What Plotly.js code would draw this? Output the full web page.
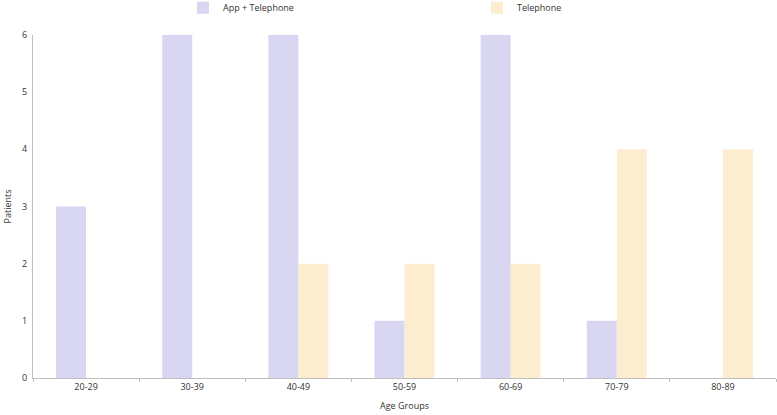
<!DOCTYPE html>
<html><head><meta charset="utf-8">
<script src="https://cdn.plot.ly/plotly-3.0.1.min.js"></script>
<style>html,body{margin:0;padding:0;background:#fff}#chart{width:777px;height:415px}</style>
</head><body><div id="chart"></div>
<script>
const categories = ["20-29","30-39","40-49","50-59","60-69","70-79","80-89"];
const appTelephone = [3,6,6,1,6,1,0];
const telephone = [0,0,2,2,2,4,4];
const seriesNames = ["App + Telephone","Telephone"];

const traces = [
  {type:'bar', name:seriesNames[0], x:categories, y:appTelephone, marker:{color:'#d9d6f1'}},
  {type:'bar', name:seriesNames[1], x:categories, y:telephone, marker:{color:'#fcedd1'}}
];
const layout = {
  width:777, height:415,
  margin:{l:33,r:1,t:35,b:37, autoexpand:false},
  font:{family:'"Open Sans", sans-serif', size:9, color:'#333'},
  barmode:'group', bargap:0.435, bargroupgap:0,
  showlegend:true,
  legend:{orientation:'h', x:0.2019, xref:'paper', xanchor:'left', y:1.122, yref:'paper', yanchor:'top',
    entrywidth:249, font:{size:9,color:'#333'}},
  xaxis:{type:'category', showline:true, linecolor:'#bfbfbf', linewidth:1, ticks:'outside', tickson:'boundaries',
    ticklen:3, tickcolor:'#bfbfbf', showgrid:false, zeroline:false,
    title:{text:'Age Groups', font:{size:9}, standoff:10}},
  yaxis:{range:[0,6], dtick:1, showline:true, linecolor:'#bfbfbf', linewidth:1, ticks:'outside', ticklen:3,
    tickcolor:'#ffffff', showgrid:false, zeroline:false,
    title:{text:'Patients', font:{size:9}, standoff:8}},
  plot_bgcolor:'#fff', paper_bgcolor:'#fff'
};
Plotly.newPlot('chart', traces, layout, {displayModeBar:false, staticPlot:true});
</script></body></html>
